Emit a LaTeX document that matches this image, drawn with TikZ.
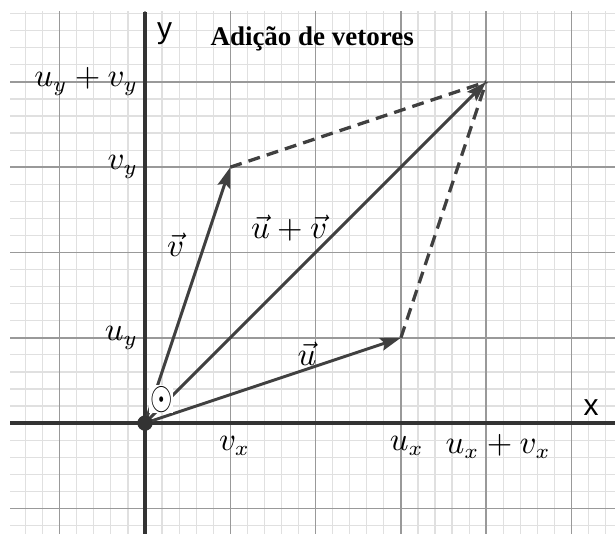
\documentclass[tikz,border=0pt]{standalone}
\usepackage{fontspec}
\newfontfamily\titlefont{Liberation Serif}
\newfontfamily\axisfont{Liberation Sans}
\usetikzlibrary{positioning, arrows.meta}

\begin{document}
\begin{tikzpicture}[
    vec/.style={line width=1pt, draw=black!75, -{Stealth[length=0.24cm, width=0.15cm, inset=0.04cm]}},
    aux/.style={line width=1.1pt, draw=black!75, dash pattern=on 4pt off 2.4pt},
    lbl/.style={font=\fontsize{10.5}{12}\selectfont, inner sep=1pt}
  ]
  \useasboundingbox (-1.70,-1.30) rectangle (5.51,4.96);
  % grid
  \begin{scope}
    \clip (-1.58,-1.30) rectangle (5.51,4.82);
    \draw[black!12, line width=0.4pt] (-1.6,-1.4) grid[step=0.2] (5.6,4.9);
    \draw[black!40, line width=0.5pt] (-2,-2) grid[step=1] (6,5);
  \end{scope}
  % axes
  \draw[line width=1.1pt, black!80] (-1.58,0) -- (5.51,0);
  \draw[line width=1.1pt, black!80] (0,-1.30) -- (0,4.82);
  \node[font=\axisfont\fontsize{10}{12}\selectfont] (xlbl) at (5.23,0.18) {x};
  \node[font=\axisfont\fontsize{10}{12}\selectfont] (ylbl) at (0.23,4.57) {y};
  \node[font=\titlefont\bfseries\fontsize{9}{11}\selectfont] (title) at (1.96,4.50) {Adição de vetores};
  % points
  \coordinate (O) at (0,0);
  \coordinate (u) at (3,1);
  \coordinate (v) at (1,3);
  \coordinate (uv) at (4,4);
  % parallelogram
  \draw[aux] (v) -- (uv);
  \draw[aux] (u) -- (uv);
  \draw[vec] (O) -- (u);
  \draw[vec] (O) -- (v);
  \draw[vec] (O) -- (uv);
  \fill[black!80] (O) circle (0.09);
  \node[fill=white, inner sep=0.3pt] (olbl) at (0.19,0.28) {\scalebox{0.8}[1.1]{\large$\odot$}};
  % vector names
  \node[lbl] (vlbl) at (0.36,2.09) {$\vec{v}$};
  \node[lbl] (uvlbl) at (1.69,2.29) {$\vec{u}+\vec{v}$};
  \node[lbl] (ulbl) at (1.90,0.81) {$\vec{u}$};
  % components
  \node[lbl, anchor=east] (uyvy) at (-0.04,4.0) {$u_y+v_y$};
  \node[lbl, anchor=east] (vy) at (-0.04,3.0) {$v_y$};
  \node[lbl, anchor=east] (uy) at (-0.04,1.0) {$u_y$};
  \node[lbl] (vx) at (1.05,-0.27) {$v_x$};
  \node[lbl] (ux) at (3.07,-0.27) {$u_x$};
  \node[lbl] (uxvx) at (4.14,-0.27) {$u_x+v_x$};
\end{tikzpicture}
\end{document}
